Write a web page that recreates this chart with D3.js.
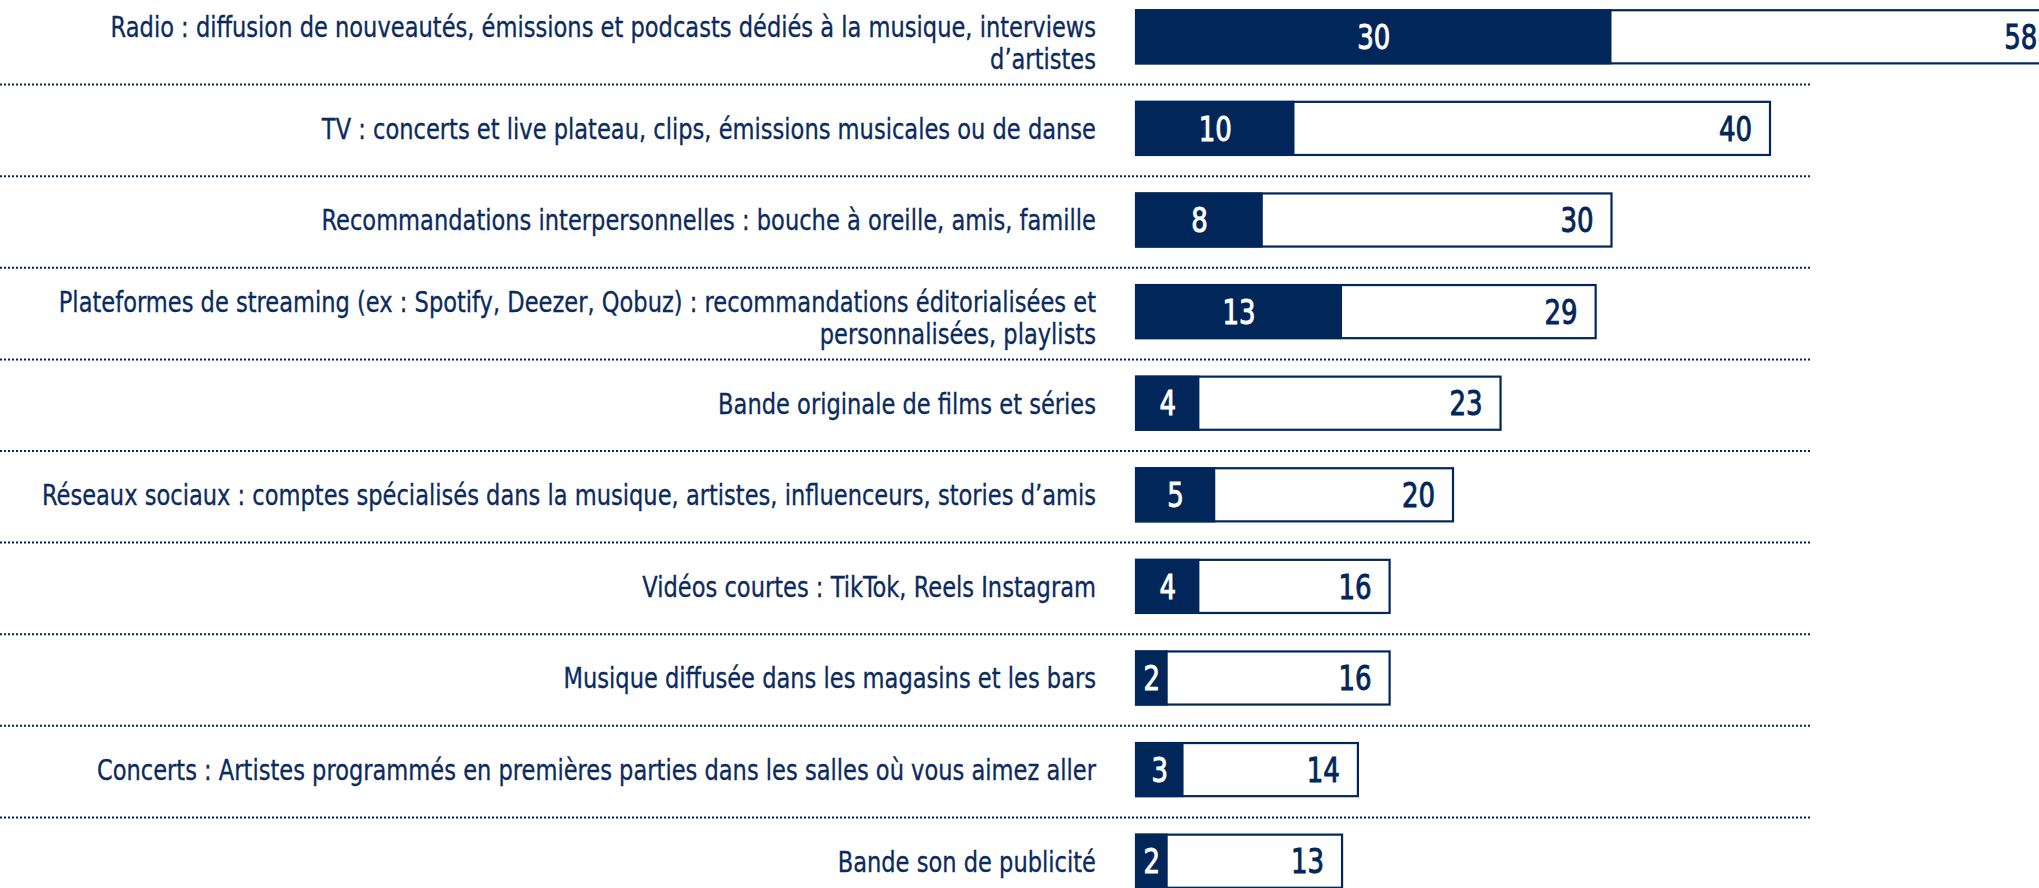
<!DOCTYPE html>
<html>
<head>
<meta charset="utf-8">
<script src="https://cdn.jsdelivr.net/npm/d3@7"></script>
<style>
  html, body { margin: 0; padding: 0; background: #fff; overflow: hidden; }
  svg { display: block; }
  .label { font-family: "DejaVu Sans Condensed", "DejaVu Sans", sans-serif; font-size: 29px; fill: #0b2a5d; stroke: #0b2a5d; stroke-width: 0.3px; }
  .num { font-family: "DejaVu Sans Condensed", "DejaVu Sans", sans-serif; font-size: 34px; stroke-width: 0.9px; }
</style>
</head>
<body>
<svg width="2039" height="888"></svg>
<script>
// categories, lines split on "\n"
var categories = [
    "Radio : diffusion de nouveautés, émissions et podcasts dédiés à la musique, interviews\nd’artistes",
    "TV : concerts et live plateau, clips, émissions musicales ou de danse",
    "Recommandations interpersonnelles : bouche à oreille, amis, famille",
    "Plateformes de streaming (ex : Spotify, Deezer, Qobuz) : recommandations éditorialisées et\npersonnalisées, playlists",
    "Bande originale de films et séries",
    "Réseaux sociaux : comptes spécialisés dans la musique, artistes, influenceurs, stories d’amis",
    "Vidéos courtes : TikTok, Reels Instagram",
    "Musique diffusée dans les magasins et les bars",
    "Concerts : Artistes programmés en premières parties dans les salles où vous aimez aller",
    "Bande son de publicité"
];
var firstValues = [30, 10, 8, 13, 4, 5, 4, 2, 3, 2];
var totalValues = [58, 40, 30, 29, 23, 20, 16, 16, 14, 13];

var svg = d3.select("svg");
var x0 = 1136;
var labelX = 1096;
var navy = "#00265a";

var x = d3.scaleLinear().domain([0, 58]).range([x0, x0 + 58 * 15.85]);
var y = d3.scaleBand().domain(categories).range([-9, 907])
    .paddingInner(0.42).paddingOuter(0.21);
var bh = y.bandwidth();
var step = y.step();

var rows = categories.map(function(c, i) {
    return {cat: c, first: firstValues[i], total: totalValues[i], i: i};
});

// dotted separators
svg.append("g").selectAll("line")
    .data(rows.slice(0, rows.length - 1))
    .enter().append("line")
    .attr("x1", 0)
    .attr("x2", 1812)
    .attr("y1", function(d) { return y(d.cat) + bh + (step - bh) / 2 + 2; })
    .attr("y2", function(d) { return y(d.cat) + bh + (step - bh) / 2 + 2; })
    .attr("stroke", navy)
    .attr("stroke-width", 2)
    .attr("stroke-dasharray", "2,2");

// total bars (white with outline)
svg.append("g").selectAll("rect")
    .data(rows)
    .enter().append("rect")
    .attr("x", x(0))
    .attr("y", function(d) { return y(d.cat); })
    .attr("width", function(d) { return x(d.total) - x(0); })
    .attr("height", bh)
    .attr("fill", "#fff")
    .attr("stroke", navy)
    .attr("stroke-width", 2.2);

// first-choice bars (dark)
svg.append("g").selectAll("rect")
    .data(rows)
    .enter().append("rect")
    .attr("x", x(0) - 1)
    .attr("y", function(d) { return y(d.cat) - 1; })
    .attr("width", function(d) { return x(d.first) - x(0) + 1; })
    .attr("height", bh + 2)
    .attr("fill", navy);

// values
svg.append("g").selectAll("text")
    .data(rows)
    .enter().append("text")
    .attr("class", "num")
    .attr("transform", function(d) {
        return "translate(" + (x(0) + x(d.first)) / 2 + "," + (y(d.cat) + bh / 2) + ") scale(0.85,1)";
    })
    .attr("dy", "0.36em")
    .attr("text-anchor", "middle")
    .attr("fill", "#fff")
    .attr("stroke", "#fff")
    .text(function(d) { return d.first; });

svg.append("g").selectAll("text")
    .data(rows)
    .enter().append("text")
    .attr("class", "num")
    .attr("transform", function(d) {
        return "translate(" + (x(d.total) - 18) + "," + (y(d.cat) + bh / 2) + ") scale(0.85,1)";
    })
    .attr("dy", "0.36em")
    .attr("text-anchor", "end")
    .attr("fill", navy)
    .attr("stroke", navy)
    .text(function(d) { return d.total; });

// category labels
var lab = svg.append("g").selectAll("text")
    .data(rows)
    .enter().append("text")
    .attr("class", "label")
    .attr("text-anchor", "end")
    .attr("transform", function(d) {
        return "translate(" + labelX + "," + (y(d.cat) + bh / 2) + ") scale(0.865,1)";
    });

lab.each(function(d) {
    var lines = d.cat.split("\n");
    var lh = 32.5;
    var off = -(lines.length - 1) * lh / 2 + (lines.length > 1 ? 6 : 0);
    var t = d3.select(this);
    lines.forEach(function(l, k) {
        t.append("tspan")
            .attr("x", 0)
            .attr("y", off + k * lh)
            .attr("dy", "0.36em")
            .text(l);
    });
});
</script>
</body>
</html>
